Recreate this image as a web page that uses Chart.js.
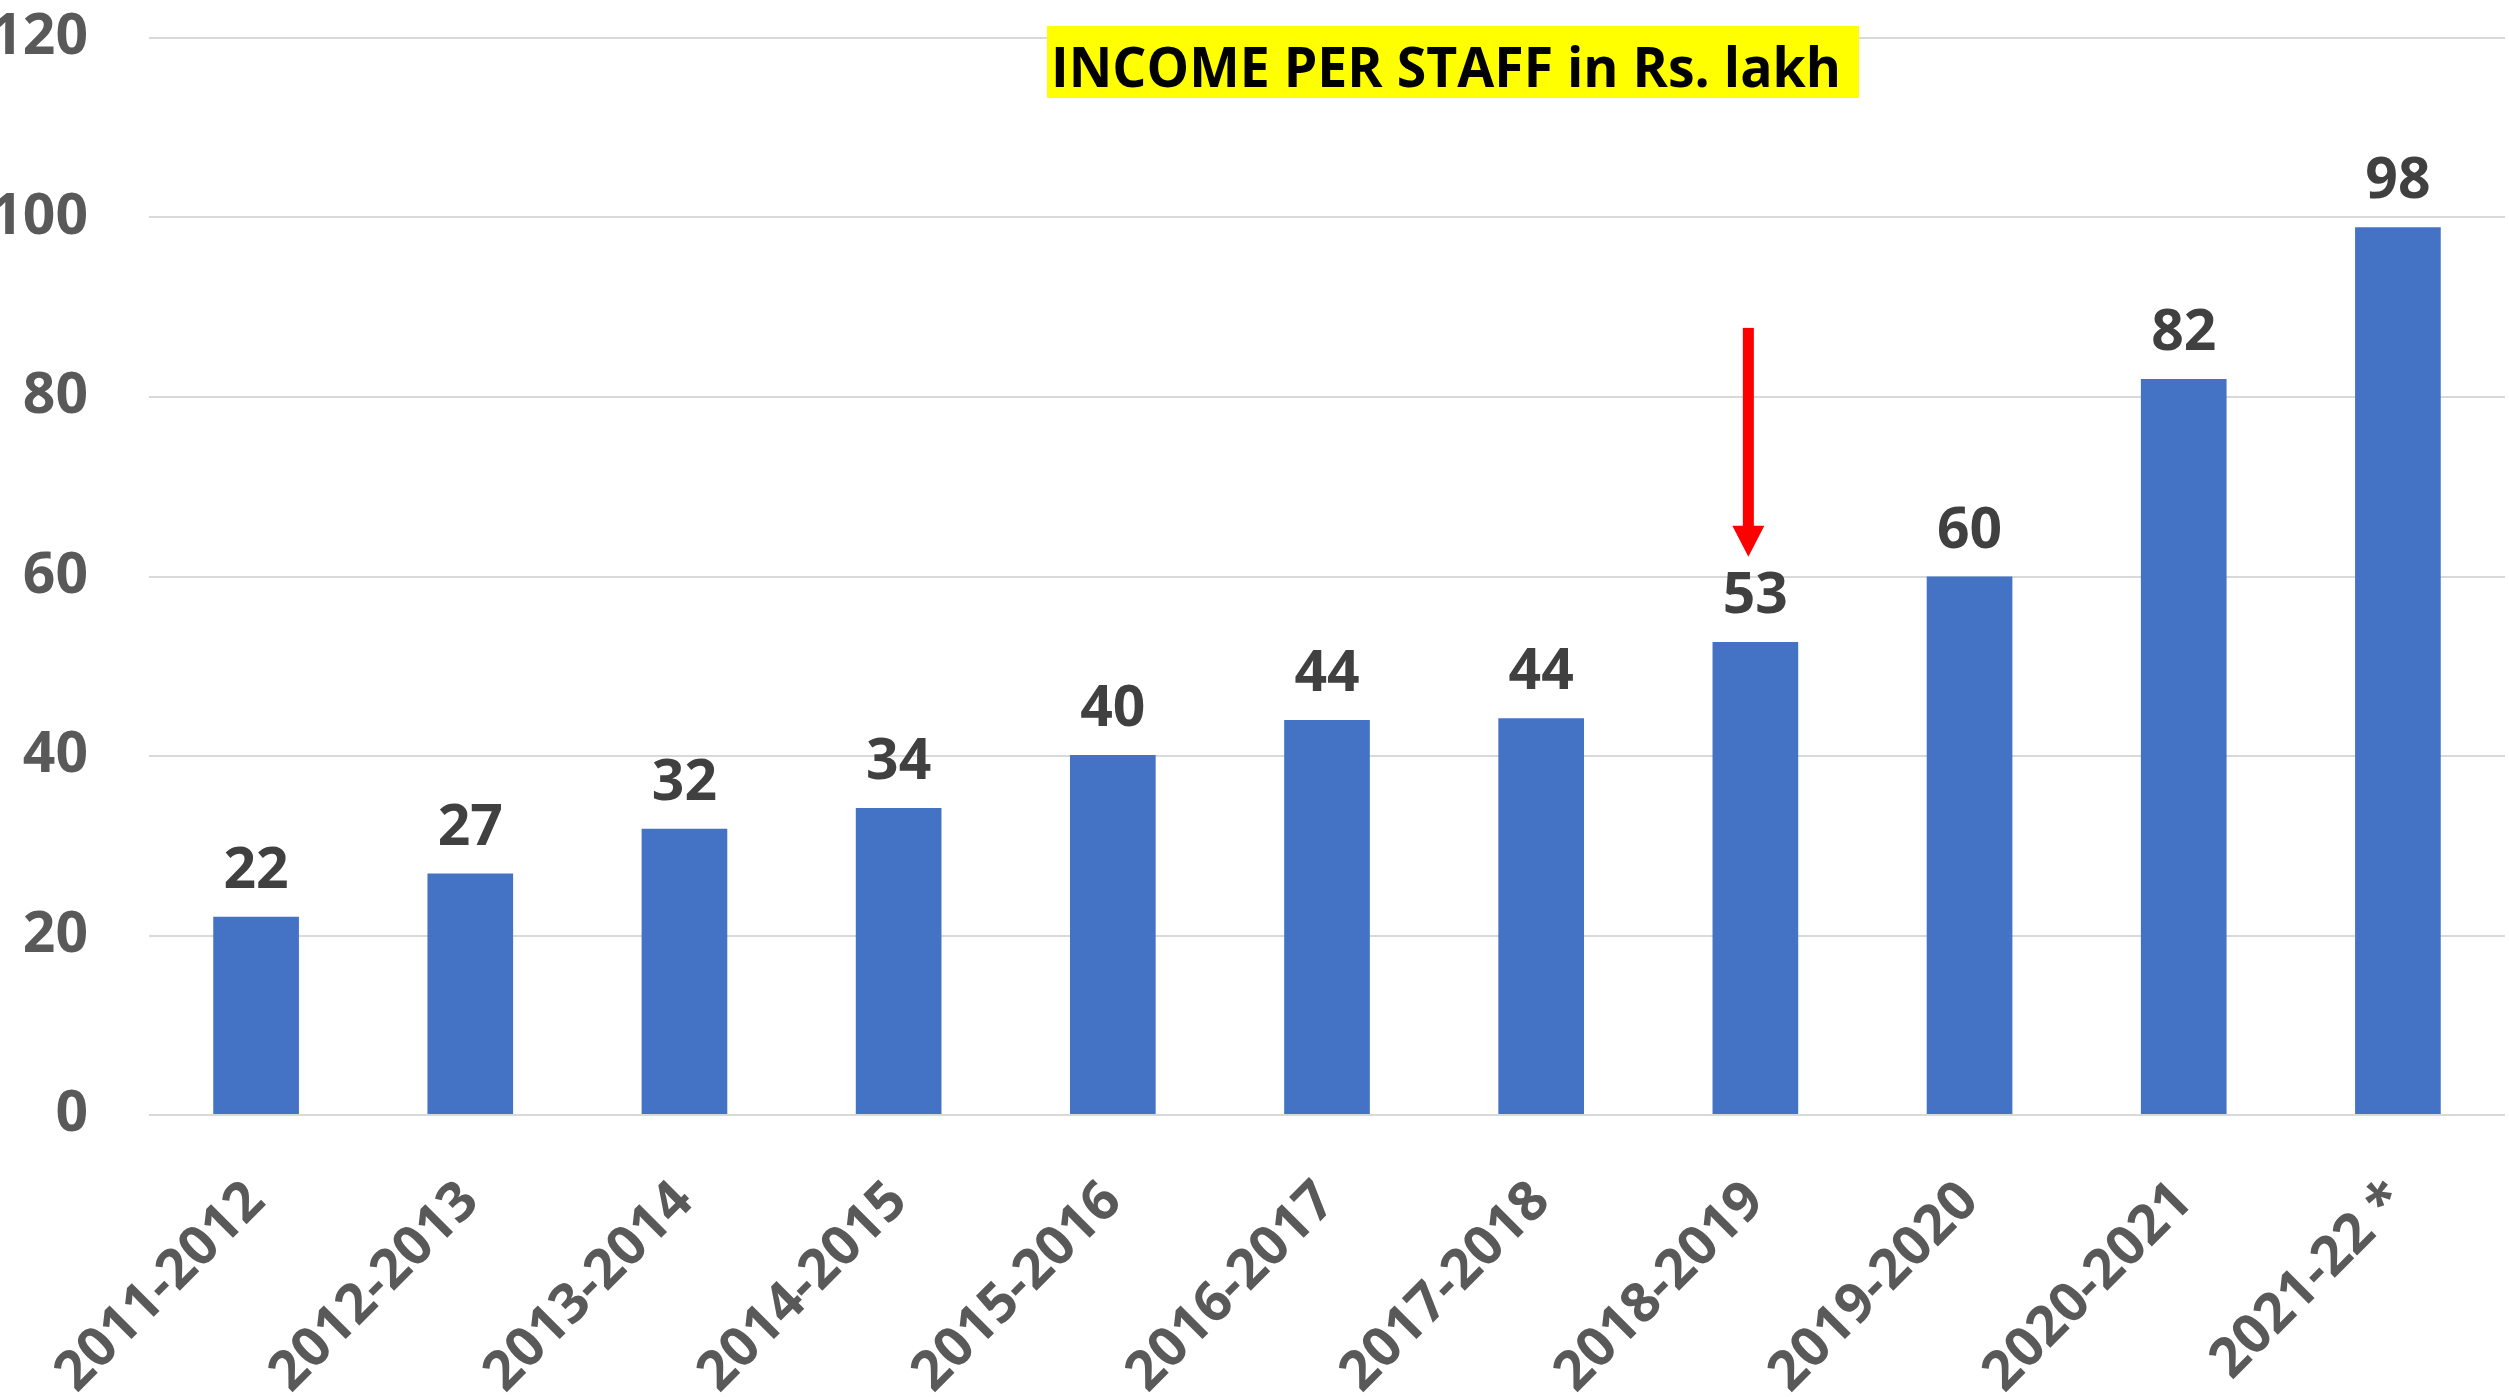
<!DOCTYPE html>
<html>
<head>
<meta charset="utf-8">
<script src="https://cdn.jsdelivr.net/npm/chart.js@4.4.1/dist/chart.umd.min.js"></script>
<style>
html,body{margin:0;padding:0;background:#ffffff;overflow:hidden;}
#wrap{position:relative;width:2509px;height:1397px;}
</style>
</head>
<body>
<div id="wrap"><canvas id="c" width="2509" height="1397"></canvas></div>
<script>
// ---- data ----
const categories = ['2011-2012','2012-2013','2013-2014','2014-2015','2015-2016','2016-2017','2017-2018','2018-2019','2019-2020','2020-2021','2021-22 *'];
const incomeValues = [22.1, 26.9, 31.9, 34.2, 40.1, 44.0, 44.2, 52.7, 60.0, 82.0, 98.9];
const valueLabels = ['22','27','32','34','40','44','44','53','60','82','98'];
const yTickValues = [0, 20, 40, 60, 80, 100, 120];
const titleText = 'INCOME PER STAFF in Rs. lakh';
const arrowCategory = '2018-2019';
const arrowFromValue = 87.7;
const arrowToValue = 62.2;

const FONT = "'Open Sans', 'Noto Sans', sans-serif";

const titleBoxPlugin = {
  id: 'titleBox',
  afterDraw(chart) {
    const ctx = chart.ctx;
    const box = {left: 1047, top: 26, right: 1859, bottom: 98};
    ctx.save();
    ctx.fillStyle = '#FFFF00';
    ctx.fillRect(box.left, box.top, box.right - box.left, box.bottom - box.top);
    ctx.font = 'bold 56px ' + FONT;
    ctx.fillStyle = '#000000';
    ctx.textBaseline = 'alphabetic';
    ctx.textAlign = 'left';
    const w = ctx.measureText(titleText).width;
    const target = 790;
    const sx = target / w;
    ctx.translate(1051, 87);
    ctx.scale(sx, 1);
    ctx.fillText(titleText, 0, 0);
    ctx.restore();
  }
};

const valueLabelPlugin = {
  id: 'valueLabels',
  afterDatasetsDraw(chart) {
    const ctx = chart.ctx;
    const meta = chart.getDatasetMeta(0);
    ctx.save();
    ctx.font = 'bold 57px ' + FONT;
    ctx.fillStyle = '#404040';
    ctx.textAlign = 'center';
    ctx.textBaseline = 'alphabetic';
    meta.data.forEach((bar, i) => {
      ctx.fillText(valueLabels[i], bar.x, bar.y - 29);
    });
    ctx.restore();
  }
};

const arrowPlugin = {
  id: 'arrow',
  afterDatasetsDraw(chart) {
    const ctx = chart.ctx;
    const xs = chart.scales.x, ys = chart.scales.y;
    const x = xs.getPixelForValue(categories.indexOf(arrowCategory)) - 7;
    const y0 = ys.getPixelForValue(arrowFromValue);
    const y1 = ys.getPixelForValue(arrowToValue);
    const headLen = 31, headHalf = 16, shaft = 11;
    ctx.save();
    ctx.fillStyle = '#FF0000';
    ctx.fillRect(x - shaft / 2, y0, shaft, (y1 - headLen) - y0 + 1);
    ctx.beginPath();
    ctx.moveTo(x - headHalf, y1 - headLen);
    ctx.lineTo(x + headHalf, y1 - headLen);
    ctx.lineTo(x, y1);
    ctx.closePath();
    ctx.fill();
    ctx.restore();
  }
};

function zeroPad(axis) {
  axis.paddingTop = 0;
  axis.paddingBottom = 0;
  axis.paddingLeft = 0;
  axis.paddingRight = 0;
}

new Chart(document.getElementById('c'), {
  type: 'bar',
  data: {
    labels: categories,
    datasets: [{
      data: incomeValues,
      backgroundColor: '#4472C4',
      borderWidth: 0,
      barPercentage: 0.4,
      categoryPercentage: 1.0
    }]
  },
  options: {
    responsive: false,
    animation: false,
    devicePixelRatio: 1,
    layout: { padding: { top: 38, right: 4, left: 0, bottom: 0 } },
    plugins: { legend: { display: false }, tooltip: { enabled: false }, title: { display: false } },
    scales: {
      x: {
        grid: { display: false, drawTicks: false },
        border: { display: false },
        ticks: {
          color: '#595959',
          font: { family: FONT, size: 55, weight: 'bold' },
          minRotation: 45,
          maxRotation: 45,
          padding: 54,
          autoSkip: false
        },
        afterFit(axis) { axis.height = 282; zeroPad(axis); }
      },
      y: {
        min: 0,
        max: 120,
        grid: { color: '#D9D9D9', lineWidth: 2, drawTicks: false },
        border: { display: false },
        ticks: {
          color: '#595959',
          font: { family: FONT, size: 57, weight: 'bold' },
          padding: 61
        },
        afterBuildTicks(axis) { axis.ticks = yTickValues.map(v => ({ value: v })); },
        afterFit(axis) { axis.width = 149; zeroPad(axis); }
      }
    }
  },
  plugins: [titleBoxPlugin, valueLabelPlugin, arrowPlugin]
});
</script>
</body>
</html>
